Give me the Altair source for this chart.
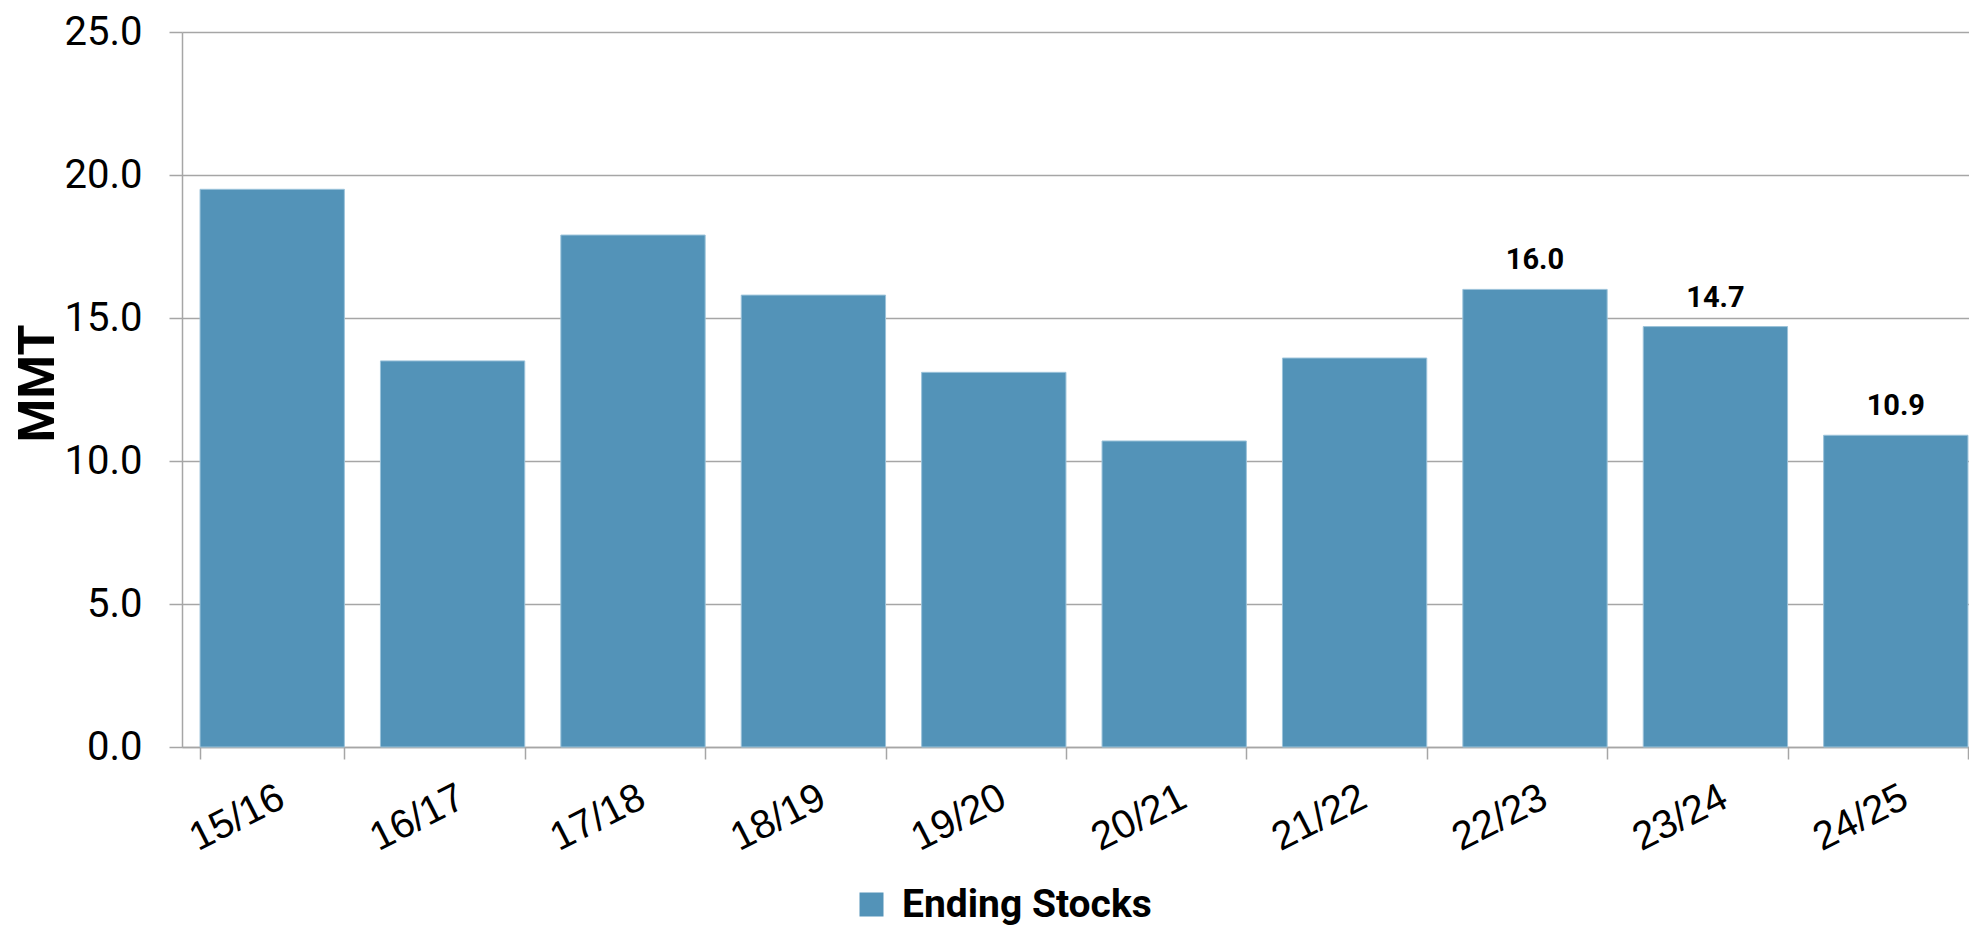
import altair as alt
import pandas as pd

seasons = ["15/16", "16/17", "17/18", "18/19", "19/20", "20/21", "21/22", "22/23", "23/24", "24/25"]
ending_stocks = [19.5, 13.5, 17.9, 15.8, 13.1, 10.7, 13.6, 16.0, 14.7, 10.9]
bar_labels = ["", "", "", "", "", "", "", "16.0", "14.7", "10.9"]
series_name = "Ending Stocks"
y_ticks = [0, 5, 10, 15, 20, 25]

df = pd.DataFrame({
    "season": seasons,
    "value": ending_stocks,
    "label": bar_labels,
    "series": [series_name] * len(seasons),
})

BAR = "#5393b8"
GRID = "#a6a6a6"
COND = "Roboto"

x_enc = alt.X(
    "season:N",
    sort=seasons,
    scale=alt.Scale(range=[0, 1804], paddingInner=0.2, paddingOuter=0.1),
    axis=alt.Axis(
        title=None,
        labelAngle=-27,
        labelAlign="right",
        labelBaseline="top",
        labelFont="Liberation Sans",
        labelFontSize=40,
        labelColor="#000000",
        labelPadding=18,
        tickBand="extent",
        tickSize=12,
        tickColor=GRID,
        tickWidth=1.5,
        domainColor=GRID,
        domainWidth=1.5,
        grid=False,
        labelOverlap=False,
    ),
)

y_enc = alt.Y(
    "value:Q",
    scale=alt.Scale(domain=[0, 25], nice=False),
    axis=alt.Axis(
        title="MMT",
        values=y_ticks,
        format=".1f",
        titleFont="Roboto",
        titleFontWeight="bold",
        titleFontSize=50,
        titleColor="#000000",
        titleAngle=-90,
        titleAlign="center",
        titleBaseline="alphabetic",
        titleX=-129,
        titleY=351,
        labelFont=COND,
        labelFontSize=40,
        labelColor="#000000",
        labelPadding=27,
        tickSize=13,
        tickColor=GRID,
        tickWidth=1.5,
        domainColor=GRID,
        domainWidth=1.5,
        grid=True,
        gridColor=GRID,
        gridWidth=1.5,
    ),
)

bars = alt.Chart(df).mark_bar(stroke="#9cc3da", strokeWidth=1).encode(
    x=x_enc,
    y=y_enc,
    color=alt.Color(
        "series:N",
        scale=alt.Scale(domain=[series_name], range=[BAR]),
        legend=alt.Legend(
            title=None,
            orient="none",
            legendX=670,
            legendY=853,
            padding=0,
            symbolType="square",
            symbolSize=576,
            symbolStrokeWidth=0,
            labelFont=COND,
            labelFontWeight="bold",
            labelFontSize=39,
            labelLimit=1000,
            labelColor="#000000",
            labelOffset=11,
        ),
    ),
)

texts = alt.Chart(df).transform_filter(alt.datum.label != "").mark_text(
    font=COND,
    fontWeight="bold",
    fontSize=29,
    color="#000000",
    baseline="alphabetic",
    align="center",
    dy=-20,
).encode(
    x=alt.X("season:N", sort=seasons),
    y=alt.Y("value:Q"),
    text="label:N",
)

chart = alt.layer(bars, texts).properties(
    width=1787,
    height=715,
    autosize=alt.AutoSizeParams(type="none"),
    padding={"left": 174, "top": 24, "right": 0, "bottom": 179},
    background="#ffffff",
).configure_view(stroke=None)

chart.save("out.html", embed_options={"renderer": "svg", "actions": False})
